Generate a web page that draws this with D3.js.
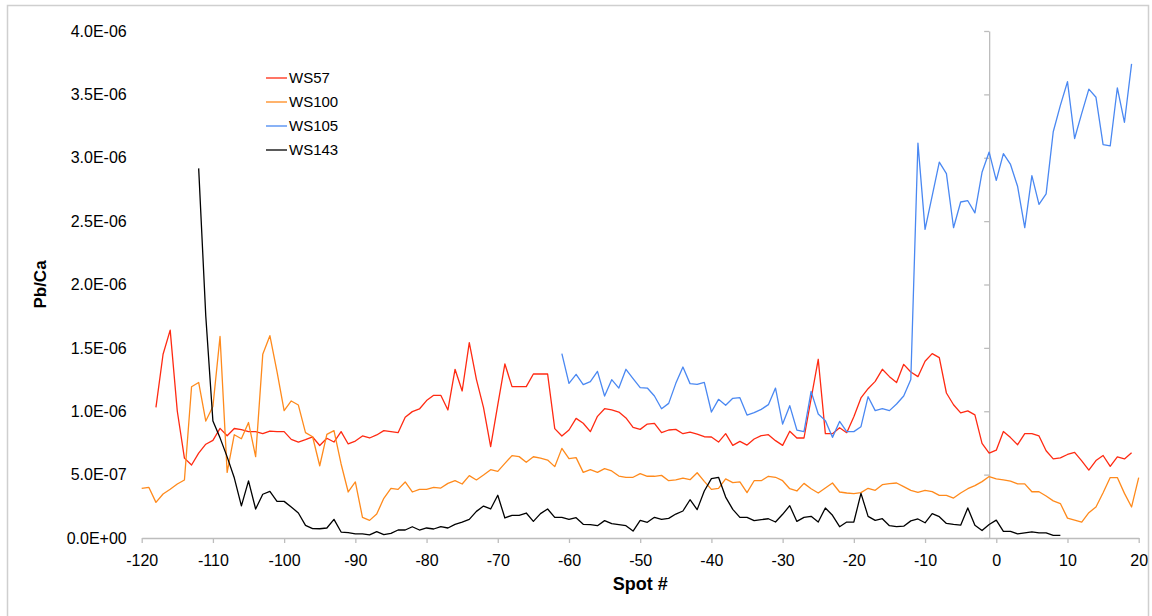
<!DOCTYPE html>
<html>
<head>
<meta charset="utf-8">
<script src="https://cdn.jsdelivr.net/npm/d3@7"></script>
<style>
  html, body { margin: 0; padding: 0; background: #fff; }
  svg { display: block; font-family: "Liberation Sans", Arial, sans-serif; }
</style>
</head>
<body>
<svg id="chart" width="1152" height="616"></svg>
<script>
// Pb/Ca ratios (in units of 1E-06) along each transect, one value per spot.
const ws57Start = -118;
const ws57 = [1.03, 1.45, 1.64, 1.00, 0.63, 0.576, 0.67, 0.74, 0.77, 0.865,
  0.807, 0.864, 0.855, 0.839, 0.839, 0.823, 0.844, 0.839, 0.839, 0.778,
  0.757, 0.776, 0.797, 0.73, 0.787, 0.757, 0.839, 0.742, 0.765, 0.805,
  0.789, 0.813, 0.847, 0.839, 0.831, 0.952, 0.997, 1.018, 1.084, 1.126,
  1.126, 1.010, 1.331, 1.160, 1.541, 1.252, 1.028, 0.721, 1.05, 1.373,
  1.194, 1.194, 1.194, 1.294, 1.294, 1.294, 0.863, 0.805, 0.852, 0.944,
  0.905, 0.839, 0.960, 1.020, 1.010, 0.994, 0.947, 0.873, 0.857, 0.899,
  0.905, 0.831, 0.852, 0.857, 0.823, 0.836, 0.820, 0.799, 0.797, 0.757,
  0.823, 0.731, 0.762, 0.733, 0.781, 0.807, 0.815, 0.768, 0.731, 0.842,
  0.789, 0.789, 1.10, 1.410, 0.823, 0.823, 0.870, 0.831, 0.957, 1.105,
  1.178, 1.236, 1.331, 1.273, 1.226, 1.37, 1.31, 1.273, 1.395, 1.455,
  1.423, 1.144, 1.051, 0.987, 1.003, 0.971, 0.747, 0.669, 0.693, 0.840,
  0.792, 0.736, 0.824, 0.824, 0.805, 0.688, 0.624, 0.632, 0.659, 0.675,
  0.608, 0.536, 0.611, 0.651, 0.565, 0.640, 0.624, 0.672];

const ws100Start = -120;
const ws100 = [0.392, 0.400, 0.281, 0.347, 0.384, 0.426, 0.458, 1.193, 1.227, 0.923,
  1.038, 1.59, 0.518, 0.815, 0.783, 0.911, 0.642, 1.449, 1.596, 1.312,
  1.005, 1.081, 1.049, 0.831, 0.799, 0.57, 0.817, 0.847, 0.584, 0.363,
  0.442, 0.163, 0.139, 0.189, 0.313, 0.392, 0.384, 0.442, 0.363, 0.384,
  0.384, 0.400, 0.394, 0.431, 0.452, 0.426, 0.492, 0.458, 0.497, 0.539,
  0.526, 0.589, 0.650, 0.642, 0.597, 0.641, 0.631, 0.615, 0.563, 0.707,
  0.626, 0.634, 0.518, 0.539, 0.518, 0.547, 0.529, 0.489, 0.479, 0.479,
  0.508, 0.487, 0.487, 0.494, 0.452, 0.458, 0.473, 0.460, 0.515, 0.447,
  0.384, 0.392, 0.466, 0.437, 0.442, 0.358, 0.452, 0.452, 0.487, 0.479,
  0.452, 0.389, 0.371, 0.431, 0.389, 0.355, 0.394, 0.434, 0.363, 0.355,
  0.350, 0.358, 0.392, 0.376, 0.421, 0.429, 0.434, 0.405, 0.376, 0.36,
  0.375, 0.366, 0.336, 0.336, 0.315, 0.355, 0.389, 0.413, 0.445, 0.485,
  0.467, 0.459, 0.448, 0.427, 0.427, 0.365, 0.365, 0.331, 0.293, 0.272,
  0.157, 0.141, 0.125, 0.200, 0.245, 0.357, 0.477, 0.477, 0.352, 0.245,
  0.477];

const ws105Start = -61;
const ws105 = [1.454, 1.220, 1.291, 1.210, 1.233, 1.315, 1.120, 1.249, 1.183, 1.331,
  1.257, 1.186, 1.183, 1.120, 1.020, 1.062, 1.220, 1.349, 1.218, 1.212,
  1.228, 0.994, 1.094, 1.047, 1.102, 1.107, 0.970, 0.989, 1.015, 1.052,
  1.183, 0.899, 1.044, 0.852, 0.839, 1.157, 0.978, 0.926, 0.794, 0.920,
  0.839, 0.839, 0.878, 1.115, 1.005, 1.020, 1.005, 1.057, 1.120, 1.25,
  3.115, 2.435, 2.70, 2.965, 2.875, 2.448, 2.651, 2.661, 2.565, 2.885,
  3.045, 2.821, 3.032, 2.947, 2.773, 2.448, 2.859, 2.632, 2.715, 3.205,
  3.413, 3.600, 3.152, 3.35, 3.541, 3.477, 3.104, 3.093, 3.552, 3.280,
  3.741];

const ws143Start = -112;
const ws143 = [2.916, 1.75, 0.923, 0.79, 0.64, 0.475, 0.254, 0.451, 0.229, 0.345,
  0.368, 0.289, 0.289, 0.245, 0.197, 0.100, 0.074, 0.073, 0.079, 0.147,
  0.047, 0.042, 0.032, 0.032, 0.024, 0.050, 0.026, 0.037, 0.063, 0.063,
  0.089, 0.063, 0.079, 0.071, 0.089, 0.079, 0.108, 0.126, 0.147, 0.210,
  0.252, 0.229, 0.337, 0.158, 0.179, 0.179, 0.197, 0.131, 0.192, 0.229,
  0.163, 0.163, 0.147, 0.160, 0.108, 0.105, 0.097, 0.137, 0.113, 0.105,
  0.097, 0.055, 0.139, 0.124, 0.163, 0.147, 0.155, 0.189, 0.213, 0.302,
  0.224, 0.371, 0.468, 0.479, 0.323, 0.226, 0.163, 0.163, 0.137, 0.145,
  0.152, 0.126, 0.187, 0.255, 0.131, 0.163, 0.171, 0.126, 0.237, 0.179,
  0.089, 0.126, 0.126, 0.352, 0.171, 0.139, 0.152, 0.097, 0.089, 0.093,
  0.135, 0.15, 0.12, 0.192, 0.168, 0.115, 0.107, 0.101, 0.237, 0.101,
  0.059, 0.107, 0.141, 0.053, 0.053, 0.032, 0.040, 0.048, 0.040, 0.040,
  0.021, 0.021];

const seriesNames = ["WS57", "WS100", "WS105", "WS143"];
const seriesColors = ["#ff2a12", "#ff8a1c", "#4a88f2", "#000000"];
const unit = 1e-6;

const xTicks = [-120, -110, -100, -90, -80, -70, -60, -50, -40, -30, -20, -10, 0, 10, 20];
const yTicks = [0, 0.5e-6, 1.0e-6, 1.5e-6, 2.0e-6, 2.5e-6, 3.0e-6, 3.5e-6, 4.0e-6];
const yAxisCrossing = -1;

const plot = { left: 141.7, right: 1138.7, top: 31, bottom: 538 };

const svg = d3.select("#chart");

// outer chart frame
svg.append("rect")
  .attr("x", 7.5).attr("y", 5.5)
  .attr("width", 1141).attr("height", 640)
  .attr("fill", "#fff")
  .attr("stroke", "#cfcfcf").attr("stroke-width", 1.5);

const x = d3.scaleLinear().domain([-120, 20]).range([plot.left, plot.right]);
const y = d3.scaleLinear().domain([0, 4e-6]).range([plot.bottom, plot.top]);

// Excel-style scientific labels, e.g. 5.0E-07
function sci(v) {
  if (v === 0) return "0.0E+00";
  const e = Math.floor(Math.log10(Math.abs(v)) + 1e-9);
  const m = v / Math.pow(10, e);
  const sign = e < 0 ? "-" : "+";
  return m.toFixed(1) + "E" + sign + String(Math.abs(e)).padStart(2, "0");
}

const axisColor = "#bdbdbd";
const tickFont = "Liberation Sans, Arial, sans-serif";

// x axis
const gx = svg.append("g")
  .attr("transform", `translate(0,${plot.bottom})`)
  .call(d3.axisBottom(x).tickValues(xTicks).tickSize(5).tickSizeOuter(0).tickPadding(12)
    .tickFormat(d => String(d)));
gx.select(".domain").attr("stroke", axisColor).attr("stroke-width", 1.6);
gx.selectAll(".tick line").attr("stroke", axisColor).attr("stroke-width", 1.3);
gx.selectAll(".tick text")
  .attr("fill", "#000").attr("font-size", 16)
  .attr("font-family", tickFont);

// y axis line + ticks crossing at spot -1
const gy = svg.append("g")
  .attr("transform", `translate(${x(yAxisCrossing)},0)`)
  .call(d3.axisLeft(y).tickValues(yTicks).tickSize(5).tickSizeOuter(0).tickFormat(""));
gy.select(".domain").attr("stroke", axisColor).attr("stroke-width", 1.3);
gy.selectAll(".tick line").attr("stroke", axisColor).attr("stroke-width", 1.3);

// y tick labels at the low side of the plot
const gyl = svg.append("g")
  .attr("transform", `translate(${plot.left},0)`)
  .call(d3.axisLeft(y).tickValues(yTicks).tickSize(0).tickPadding(15).tickFormat(sci));
gyl.select(".domain").remove();
gyl.selectAll(".tick text")
  .attr("fill", "#000").attr("font-size", 16)
  .attr("font-family", tickFont);

// series lines
const line = d3.line()
  .x(d => x(d.spot))
  .y(d => y(d.value * unit));

function toPoints(start, values) {
  return values.map((v, i) => ({ spot: start + i, value: v }));
}

const series = [
  toPoints(ws57Start, ws57),
  toPoints(ws100Start, ws100),
  toPoints(ws105Start, ws105),
  toPoints(ws143Start, ws143)
];

svg.append("g").selectAll("path")
  .data(series)
  .join("path")
  .attr("d", line)
  .attr("fill", "none")
  .attr("stroke", (d, i) => seriesColors[i])
  .attr("stroke-width", 1.3)
  .attr("stroke-linejoin", "round");

// legend
const legend = svg.append("g").attr("transform", "translate(266,78)");
seriesNames.forEach((name, i) => {
  const g = legend.append("g").attr("transform", `translate(0,${i * 24})`);
  g.append("line")
    .attr("x1", 0).attr("x2", 21).attr("y1", 0).attr("y2", 0)
    .attr("stroke", seriesColors[i]).attr("stroke-width", 1.3);
  g.append("text")
    .attr("x", 23).attr("y", 0).attr("dy", "0.35em")
    .attr("font-size", 15).attr("fill", "#000")
    .attr("font-family", tickFont)
    .text(name);
});

// axis titles
svg.append("text")
  .attr("transform", `translate(46,${(plot.top + plot.bottom) / 2}) rotate(-90)`)
  .attr("text-anchor", "middle")
  .attr("font-size", 17).attr("font-weight", "bold")
  .attr("font-family", tickFont)
  .text("Pb/Ca");

svg.append("text")
  .attr("x", (plot.left + plot.right) / 2).attr("y", 590)
  .attr("text-anchor", "middle")
  .attr("font-size", 18).attr("font-weight", "bold")
  .attr("font-family", tickFont)
  .text("Spot #");
</script>
</body>
</html>
